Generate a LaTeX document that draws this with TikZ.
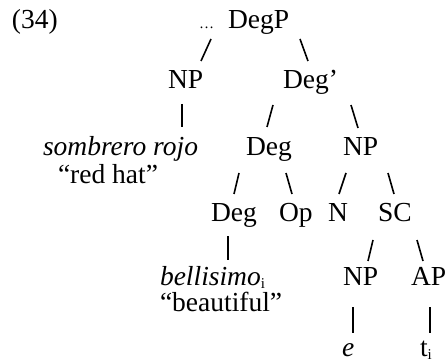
\documentclass[tikz,border=0pt]{standalone}
\usepackage{fontspec}
\setmainfont{Liberation Serif}
\begin{document}
\begin{tikzpicture}[x=1pt,y=-1pt,
  every node/.style={font=\fontsize{27.5}{32}\selectfont, inner sep=0pt, outer sep=0pt},
  lbl/.style={anchor=base west},
  stroke/.style={line width=1.6pt, line cap=butt}]
\useasboundingbox (0,0) rectangle (446,363);
\newcommand{\subi}{\raisebox{-0.14em}{\fontsize{15}{15}\selectfont i}}
% labels
\node[lbl] (ex) at (12,29) {(34)};
\node[lbl, font=\fontsize{15}{15}\selectfont] (dots) at (199,29) {…};
\node[lbl] (degp) at (228,29) {DegP};
\node[lbl] (np1) at (168,89) {NP};
\node[lbl] (degbar) at (283,89) {Deg’};
\node[lbl] (sr) at (43,156) {\itshape sombrero rojo};
\node[lbl] (rh) at (58,183) {“red hat”};
\node[lbl] (deg1) at (246,156) {Deg};
\node[lbl] (np2) at (343,156) {NP};
\node[lbl] (deg2) at (211,221) {Deg};
\node[lbl] (op) at (279,221) {Op};
\node[lbl] (n) at (328,221) {N};
\node[lbl] (sc) at (378,221) {SC};
\node[lbl] (bel) at (160,285) {\itshape bellisimo\/\upshape\subi};
\node[lbl] (beau) at (160,311) {“beautiful”};
\node[lbl] (np3) at (343,285) {NP};
\node[lbl] (ap) at (411,285) {AP};
\node[lbl] (e) at (342,356) {\itshape e};
\node[lbl] (t) at (420,356) {t\subi};
% stroke end points
\coordinate (a1) at (211,39); \coordinate (a2) at (201,61);
\coordinate (b1) at (300,39); \coordinate (b2) at (308,61);
\coordinate (c1) at (182,104); \coordinate (c2) at (182,127);
\coordinate (d1) at (273,105); \coordinate (d2) at (267,127);
\coordinate (e1) at (351,105); \coordinate (e2) at (358,128);
\coordinate (f1) at (239,173); \coordinate (f2) at (234,194);
\coordinate (g1) at (286,173); \coordinate (g2) at (292,194);
\coordinate (h1) at (346,173); \coordinate (h2) at (339,194);
\coordinate (i1) at (388,173); \coordinate (i2) at (394,194);
\coordinate (j1) at (228,236); \coordinate (j2) at (228,260);
\coordinate (k1) at (373,240); \coordinate (k2) at (368,261);
\coordinate (l1) at (417,240); \coordinate (l2) at (423,261);
\coordinate (m1) at (353,307); \coordinate (m2) at (353,333);
\coordinate (o1) at (430,307); \coordinate (o2) at (430,333);
\foreach \p/\q in {a1/a2,b1/b2,c1/c2,d1/d2,e1/e2,f1/f2,g1/g2,h1/h2,i1/i2,j1/j2,k1/k2,l1/l2,m1/m2,o1/o2}
  \draw[stroke] (\p) -- (\q);
\end{tikzpicture}
\end{document}
